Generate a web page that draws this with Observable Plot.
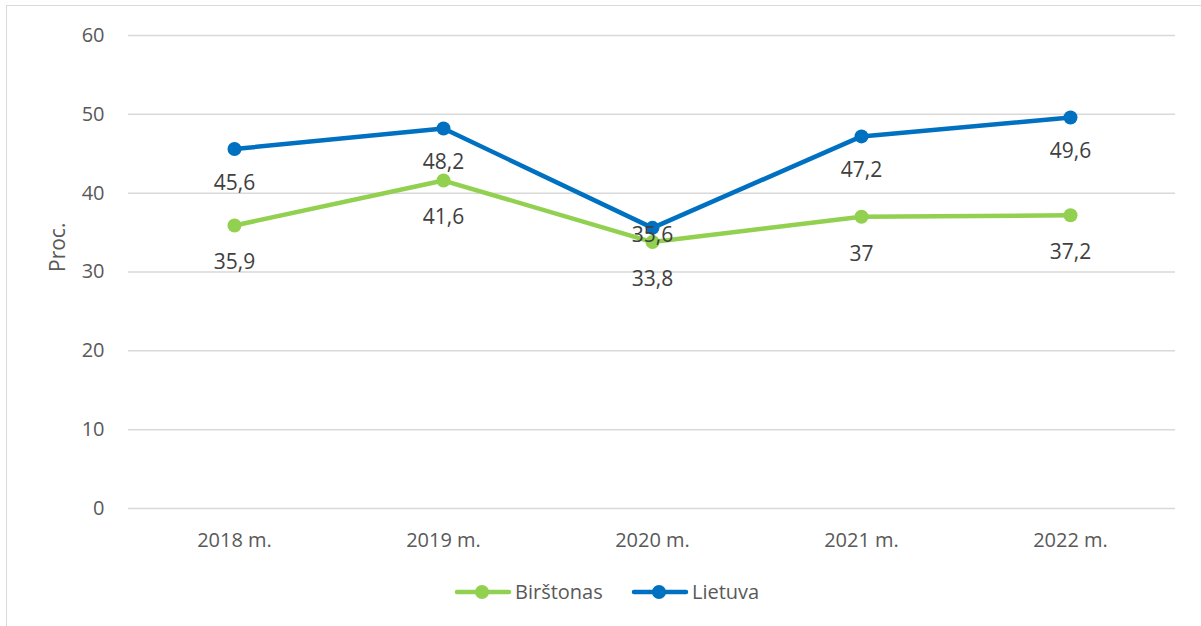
<!DOCTYPE html>
<html><head><meta charset="utf-8">
<script src="https://cdn.jsdelivr.net/npm/d3@7"></script>
<script src="https://cdn.jsdelivr.net/npm/@observablehq/plot@0.6"></script>
<style>
body{margin:0;background:#fff;font-family:"Open Sans",Lato,sans-serif;}
#frame{position:absolute;left:6px;top:5px;width:1300px;height:700px;border:1.5px solid #d9d9d9;box-sizing:border-box;}
#chart{position:absolute;left:0;top:0;}
#legend{position:absolute;top:578px;left:0;width:1201px;height:28px;}
.item{position:absolute;top:0;display:flex;align-items:center;font-size:20px;color:#595959;}
.item svg{margin-right:3px;}
</style></head>
<body>
<div id="frame"></div>
<div id="chart"></div>
<div id="legend"></div>
<script>
const years = ["2018 m.","2019 m.","2020 m.","2021 m.","2022 m."];
const birstonas = [35.9, 41.6, 33.8, 37, 37.2];
const lietuva = [45.6, 48.2, 35.6, 47.2, 49.6];
const yTicks = [0, 10, 20, 30, 40, 50, 60];
const seriesNames = ["Birštonas", "Lietuva"];
const seriesColors = ["#92d050", "#0070c0"];

const fmt = v => String(v).replace(".", ",");
const rows = [];
years.forEach((y, i) => {
  rows.push({year: y, value: birstonas[i], series: seriesNames[0]});
  rows.push({year: y, value: lietuva[i], series: seriesNames[1]});
});
const bRows = rows.filter(d => d.series === seriesNames[0]);
const lRows = rows.filter(d => d.series === seriesNames[1]);
const lRowsNormal = lRows.filter(d => d.year !== "2020 m.");
const lRowsShift = lRows.filter(d => d.year === "2020 m.");

const chart = Plot.plot({
  width: 1201,
  height: 560,
  marginLeft: 128,
  marginRight: 26,
  marginTop: 35,
  marginBottom: 52,
  style: {fontFamily: "'Open Sans', Lato, sans-serif", background: "transparent"},
  x: {type: "point", domain: years, padding: 0.5, label: null},
  y: {domain: [0, 60], label: null},
  color: {domain: seriesNames, range: seriesColors},
  marks: [
    Plot.ruleY(yTicks, {stroke: "#d9d9d9", strokeWidth: 1.5}),
    Plot.axisY(yTicks, {tickSize: 0, tickPadding: 24, fontSize: 20, fill: "#595959", label: null}),
    Plot.axisX({tickSize: 0, tickPadding: 24, fontSize: 20, fill: "#595959", label: null}),
    Plot.text(["Proc."], {frameAnchor: "left", dx: -70, rotate: -90, fontSize: 21, fill: "#595959"}),
    Plot.line(bRows, {x: "year", y: "value", stroke: seriesColors[0], strokeWidth: 4.5}),
    Plot.dot(bRows, {x: "year", y: "value", fill: seriesColors[0], r: 7}),
    Plot.line(lRows, {x: "year", y: "value", stroke: seriesColors[1], strokeWidth: 4.5}),
    Plot.dot(lRows, {x: "year", y: "value", fill: seriesColors[1], r: 7}),
    Plot.text(bRows, {x: "year", y: "value", text: d => fmt(d.value), dy: 37, fontSize: 21, fill: "#404040"}),
    Plot.text(lRowsNormal, {x: "year", y: "value", text: d => fmt(d.value), dy: 34, fontSize: 21, fill: "#404040"}),
    Plot.text(lRowsShift, {x: "year", y: "value", text: d => fmt(d.value), dy: 7, fontSize: 21, fill: "#404040"})
  ]
});
document.getElementById("chart").appendChild(chart);

const legend = document.getElementById("legend");
const lefts = [454, 631];
seriesNames.forEach((name, i) => {
  const item = document.createElement("div");
  item.className = "item";
  item.style.left = lefts[i] + "px";
  item.innerHTML = `<svg width="58" height="26"><line x1="3" y1="13" x2="55" y2="13" stroke="${seriesColors[i]}" stroke-width="4.5" stroke-linecap="round"/><circle cx="28" cy="13" r="7" fill="${seriesColors[i]}"/></svg><span>${name}</span>`;
  legend.appendChild(item);
});
</script>
</body></html>
